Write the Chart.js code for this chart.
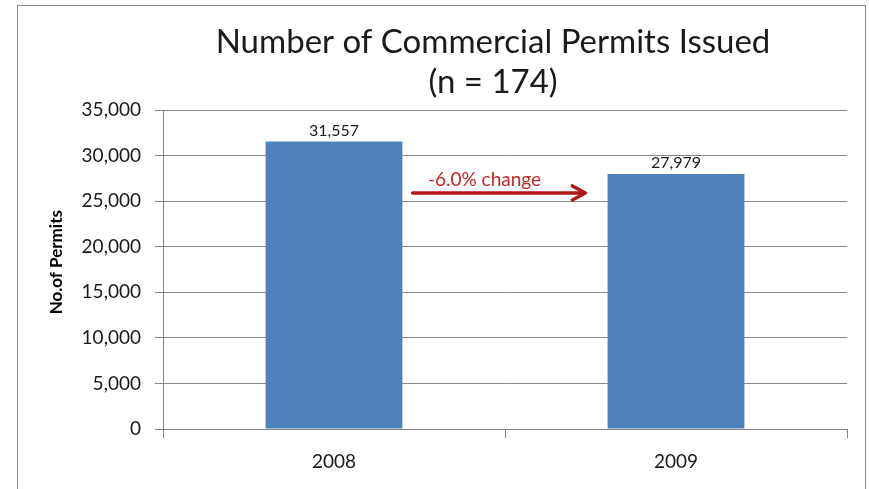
<!DOCTYPE html>
<html>
<head>
<meta charset="utf-8">
<script src="https://cdn.jsdelivr.net/npm/chart.js@4"></script>
<style>
html,body{margin:0;padding:0;background:#fff;}
#wrap{position:relative;width:869px;height:489px;}
</style>
</head>
<body>
<div id="wrap"><canvas id="c" width="869" height="489"></canvas></div>
<script>
const categories = ["2008", "2009"];
const permits = [31557, 27979];
const yTicks = [0, 5000, 10000, 15000, 20000, 25000, 30000, 35000];
const titleLines = ["Number of Commercial Permits Issued", "(n = 174)"];
const yAxisTitle = "No.of Permits";
const changeLabel = "-6.0% change";

const FONT = "Lato, 'Open Sans', sans-serif";

const borderPlugin = {
  id: 'border',
  afterDraw(chart) {
    const ctx = chart.ctx;
    ctx.save();
    ctx.strokeStyle = '#8a8a8a';
    ctx.lineWidth = 1;
    ctx.strokeRect(17.5, 5.5, 848, 490);
    ctx.restore();
  }
};

const titlePlugin = {
  id: 'titleText',
  afterDraw(chart) {
    const ctx = chart.ctx;
    ctx.save();
    ctx.font = "33px " + FONT;
    ctx.fillStyle = '#1a1a1a';
    ctx.textAlign = 'center';
    ctx.textBaseline = 'middle';
    titleLines.forEach((t, i) => ctx.fillText(t, 493, 42 + i * 40));
    ctx.restore();
  }
};

const yTitlePlugin = {
  id: 'yTitle',
  afterDraw(chart) {
    const ctx = chart.ctx;
    const y = chart.scales.y;
    ctx.save();
    ctx.translate(57, y.getPixelForValue(18300));
    ctx.rotate(-Math.PI / 2);
    ctx.font = "bold 17px " + FONT;
    ctx.fillStyle = '#000';
    ctx.textAlign = 'center';
    ctx.textBaseline = 'middle';
    ctx.fillText(yAxisTitle, 0, 0);
    ctx.restore();
  }
};

const labelsPlugin = {
  id: 'barLabels',
  afterDatasetsDraw(chart) {
    const ctx = chart.ctx;
    const meta = chart.getDatasetMeta(0);
    ctx.save();
    ctx.font = "16px " + FONT;
    ctx.fillStyle = '#1a1a1a';
    ctx.textAlign = 'center';
    ctx.textBaseline = 'bottom';
    meta.data.forEach((bar, i) => {
      ctx.fillText(permits[i].toLocaleString('en-US'), bar.x, bar.y - 3);
    });
    ctx.restore();
  }
};

const arrowPlugin = {
  id: 'changeArrow',
  afterDatasetsDraw(chart) {
    const ctx = chart.ctx;
    const x = chart.scales.x, y = chart.scales.y;
    const x0 = x.getPixelForValue(0.23);
    const x1 = x.getPixelForValue(0.735);
    const yy = y.getPixelForValue(25900);
    ctx.save();
    ctx.strokeStyle = '#b01818';
    ctx.lineWidth = 3.5;
    ctx.lineCap = 'round';
    ctx.lineJoin = 'round';
    ctx.beginPath();
    ctx.moveTo(x0, yy);
    ctx.lineTo(x1 - 3, yy);
    ctx.stroke();
    ctx.beginPath();
    ctx.moveTo(x1 - 13, yy - 7);
    ctx.lineTo(x1, yy);
    ctx.lineTo(x1 - 13, yy + 7);
    ctx.stroke();
    ctx.font = "19px " + FONT;
    ctx.fillStyle = '#c0282a';
    ctx.textAlign = 'center';
    ctx.textBaseline = 'middle';
    ctx.fillText(changeLabel, x.getPixelForValue(0.44), y.getPixelForValue(27300));
    ctx.restore();
  }
};

new Chart(document.getElementById('c'), {
  type: 'bar',
  data: {
    labels: categories,
    datasets: [{
      data: permits,
      backgroundColor: '#4f81bd',
      borderWidth: 0,
      barPercentage: 0.8,
      categoryPercentage: 0.5
    }]
  },
  options: {
    responsive: false,
    animation: false,
    events: [],
    layout: { padding: { left: 0, right: 22, top: 110, bottom: 0 } },
    plugins: {
      legend: { display: false },
      tooltip: { enabled: false },
      title: { display: false }
    },
    scales: {
      x: {
        grid: { offset: true, drawOnChartArea: false, tickLength: 9, color: '#868686' },
        border: { color: '#868686' },
        ticks: { color: '#1a1a1a', font: { family: FONT, size: 19 }, padding: 12 },
        afterFit(s) { s.height = 60; }
      },
      y: {
        min: 0, max: 35000,
        afterBuildTicks(s) { s.ticks = yTicks.map(v => ({ value: v })); },
        grid: { color: '#868686', tickLength: 8 },
        border: { color: '#868686' },
        ticks: {
          color: '#1a1a1a',
          font: { family: FONT, size: 19 },
          padding: 14,
          callback: v => v.toLocaleString('en-US')
        },
        title: { display: false },
        afterFit(s) { s.width = 163; }
      }
    }
  },
  plugins: [borderPlugin, titlePlugin, yTitlePlugin, labelsPlugin, arrowPlugin]
});
</script>
</body>
</html>
